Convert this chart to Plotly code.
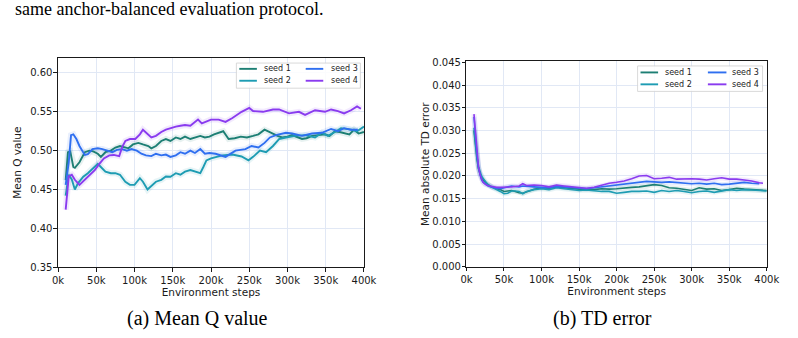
import plotly.graph_objects as go

# ---------------- data (steps in thousands) ----------------
q_steps_s1 = [10, 13, 16, 20, 22, 28, 35, 41, 46, 52, 56, 62, 69, 75, 81, 88, 92, 98, 105, 111, 118, 122, 128, 135, 141, 147, 154, 160, 166, 173, 179, 186, 192, 198, 204, 210, 216, 223, 231, 239, 247, 255, 262, 270, 276, 281, 287, 293, 300, 306, 312, 319, 325, 332, 340, 349, 355, 362, 368, 374, 381, 387, 393, 400]
q_vals_s1 = [0.462, 0.498, 0.499, 0.479, 0.478, 0.485, 0.498, 0.500, 0.499, 0.496, 0.492, 0.498, 0.500, 0.504, 0.506, 0.504, 0.503, 0.508, 0.510, 0.508, 0.506, 0.503, 0.506, 0.5125, 0.515, 0.5125, 0.517, 0.515, 0.518, 0.515, 0.517, 0.519, 0.517, 0.518, 0.521, 0.523, 0.525, 0.515, 0.516, 0.518, 0.517, 0.519, 0.521, 0.527, 0.524, 0.521, 0.519, 0.517, 0.518, 0.520, 0.518, 0.515, 0.516, 0.519, 0.520, 0.521, 0.519, 0.525, 0.524, 0.523, 0.521, 0.527, 0.522, 0.524]

q_steps_s2 = [10, 14, 18, 22, 26, 33, 39, 45, 52, 56, 62, 69, 75, 81, 88, 94, 100, 107, 111, 117, 122, 128, 135, 141, 147, 154, 160, 166, 173, 179, 186, 190, 194, 200, 206, 215, 228, 240, 249, 255, 264, 272, 281, 289, 298, 310, 323, 336, 345, 353, 362, 370, 383, 391, 400]
q_vals_s2 = [0.442, 0.469, 0.463, 0.450, 0.458, 0.4665, 0.471, 0.477, 0.483, 0.479, 0.473, 0.471, 0.471, 0.469, 0.460, 0.456, 0.456, 0.4645, 0.460, 0.450, 0.454, 0.460, 0.4625, 0.4667, 0.4665, 0.471, 0.469, 0.473, 0.475, 0.473, 0.471, 0.479, 0.4875, 0.490, 0.492, 0.494, 0.495, 0.4925, 0.4875, 0.492, 0.500, 0.498, 0.506, 0.515, 0.517, 0.519, 0.520, 0.517, 0.523, 0.519, 0.524, 0.529, 0.527, 0.525, 0.531]

q_steps_s3 = [10, 14, 17, 20, 24, 28, 35, 39, 45, 52, 58, 64, 71, 77, 84, 90, 96, 103, 109, 115, 122, 128, 135, 141, 147, 154, 160, 166, 173, 179, 186, 192, 198, 206, 219, 232, 245, 253, 262, 270, 277, 285, 298, 306, 319, 332, 345, 357, 366, 374, 383, 392]
q_vals_s3 = [0.456, 0.485, 0.520, 0.521, 0.515, 0.506, 0.4945, 0.4955, 0.502, 0.503, 0.502, 0.500, 0.498, 0.501, 0.502, 0.500, 0.502, 0.500, 0.496, 0.494, 0.493, 0.496, 0.494, 0.495, 0.492, 0.494, 0.498, 0.496, 0.500, 0.497, 0.502, 0.496, 0.497, 0.496, 0.492, 0.500, 0.502, 0.506, 0.504, 0.510, 0.517, 0.520, 0.523, 0.522, 0.519, 0.522, 0.523, 0.528, 0.525, 0.529, 0.527, 0.527]

q_steps_s4 = [10, 14, 18, 22, 28, 35, 41, 48, 54, 60, 67, 73, 80, 84, 88, 94, 101, 107, 111, 116, 122, 128, 135, 141, 147, 154, 160, 166, 173, 179, 183, 188, 194, 200, 210, 219, 228, 240, 250, 255, 268, 281, 289, 302, 315, 323, 336, 349, 357, 366, 374, 383, 391, 396]
q_vals_s4 = [0.424, 0.467, 0.469, 0.4625, 0.456, 0.4625, 0.469, 0.475, 0.483, 0.490, 0.494, 0.4945, 0.493, 0.505, 0.5125, 0.515, 0.515, 0.521, 0.527, 0.523, 0.517, 0.519, 0.524, 0.527, 0.529, 0.531, 0.532, 0.533, 0.532, 0.5375, 0.540, 0.535, 0.5375, 0.540, 0.540, 0.537, 0.542, 0.550, 0.555, 0.551, 0.550, 0.553, 0.553, 0.548, 0.550, 0.546, 0.552, 0.550, 0.553, 0.551, 0.548, 0.552, 0.557, 0.554]

td_steps = [10, 12, 14, 16, 18, 20, 22, 25, 28, 31, 35, 40, 45, 50, 55, 60, 65, 70, 75, 80, 90, 100, 110, 120, 130, 140, 150, 160, 170, 180, 190, 200, 210, 220, 230, 240, 250, 260, 270, 280, 290, 300, 310, 320, 330, 340, 350, 360, 370, 380, 390, 400]
td_steps_s3 = td_steps[:-1]
td_steps_s4 = td_steps[:-1] + [395]

td_vals_s1 = [0.0300, 0.0265, 0.0237, 0.0216, 0.0205, 0.0196, 0.0192, 0.0186, 0.0182, 0.0178, 0.0175, 0.0172, 0.0170, 0.0166, 0.0167, 0.0168, 0.0166, 0.0163, 0.0162, 0.0165, 0.0171, 0.0174, 0.0173, 0.0176, 0.0174, 0.0172, 0.0171, 0.0171, 0.0170, 0.0172, 0.0171, 0.0172, 0.0174, 0.0175, 0.0176, 0.0178, 0.0181, 0.0179, 0.0174, 0.0173, 0.0170, 0.0168, 0.0174, 0.0171, 0.0172, 0.0168, 0.0170, 0.0173, 0.0171, 0.0170, 0.0168, 0.0168]
td_vals_s2 = [0.0306, 0.0270, 0.0242, 0.0221, 0.0208, 0.0200, 0.0195, 0.0187, 0.0182, 0.0178, 0.0174, 0.0170, 0.0166, 0.0161, 0.0162, 0.0167, 0.0167, 0.0166, 0.0161, 0.0166, 0.0170, 0.0172, 0.0170, 0.0174, 0.0172, 0.0170, 0.0168, 0.0169, 0.0167, 0.0166, 0.0166, 0.0162, 0.0164, 0.0166, 0.0166, 0.0167, 0.0164, 0.0168, 0.0166, 0.0168, 0.0166, 0.0163, 0.0166, 0.0167, 0.0164, 0.0167, 0.0170, 0.0168, 0.0170, 0.0169, 0.0168, 0.0167]
td_vals_s3 = [0.0330, 0.0285, 0.0245, 0.0218, 0.0202, 0.0192, 0.0187, 0.0182, 0.0179, 0.0177, 0.0175, 0.0173, 0.0172, 0.0174, 0.0176, 0.0178, 0.0177, 0.0176, 0.0178, 0.0177, 0.0176, 0.0175, 0.0174, 0.0177, 0.0176, 0.0175, 0.0174, 0.0172, 0.0174, 0.0176, 0.0178, 0.0179, 0.0181, 0.0184, 0.0186, 0.0188, 0.0187, 0.0186, 0.0187, 0.0186, 0.0184, 0.0183, 0.0184, 0.0182, 0.0184, 0.0181, 0.0182, 0.0184, 0.0186, 0.0184, 0.0183]
td_vals_s4 = [0.0336, 0.0290, 0.0249, 0.0221, 0.0203, 0.0192, 0.0186, 0.0182, 0.0179, 0.0178, 0.0176, 0.0175, 0.0175, 0.0175, 0.0176, 0.0176, 0.0177, 0.0178, 0.0183, 0.0179, 0.0180, 0.0179, 0.0176, 0.0180, 0.0178, 0.0176, 0.0175, 0.0173, 0.0175, 0.0179, 0.0184, 0.0186, 0.0189, 0.0194, 0.0200, 0.0201, 0.0194, 0.0195, 0.0197, 0.0193, 0.0194, 0.0194, 0.0193, 0.0191, 0.0194, 0.0196, 0.0193, 0.0193, 0.0191, 0.0189, 0.0185, 0.0184]

seed_names = ["seed 1", "seed 2", "seed 3", "seed 4"]
x_tick_vals = [0, 50, 100, 150, 200, 250, 300, 350, 400]
x_tick_text = ["0k", "50k", "100k", "150k", "200k", "250k", "300k", "350k", "400k"]
q_tick_vals = [0.35, 0.40, 0.45, 0.50, 0.55, 0.60]
q_tick_text = ["0.35", "0.40", "0.45", "0.50", "0.55", "0.60"]
td_tick_vals = [0.000, 0.005, 0.010, 0.015, 0.020, 0.025, 0.030, 0.035, 0.040, 0.045]
td_tick_text = ["0.000", "0.005", "0.010", "0.015", "0.020", "0.025", "0.030", "0.035", "0.040", "0.045"]
header_text = "same anchor-balanced evaluation protocol."
caption_a = "(a) Mean Q value"
caption_b = "(b) TD error"

# ---------------- styling ----------------
W, H = 798, 338
colors = ["#1d7f74", "#1e9cb3", "#2f6ff0", "#8a3bef"]
SANS = "DejaVu Sans"
SERIF = "Liberation Serif"
INK = "#1a1a1a"

def px(x):
    return x / W

def py(y):
    return 1 - y / H

fig = go.Figure()

q_series = [(q_steps_s1, q_vals_s1), (q_steps_s2, q_vals_s2), (q_steps_s3, q_vals_s3), (q_steps_s4, q_vals_s4)]
td_series = [(td_steps, td_vals_s1), (td_steps, td_vals_s2), (td_steps_s3, td_vals_s3), (td_steps_s4, td_vals_s4)]

for (xs, ys), c in zip(q_series, colors):
    fig.add_trace(go.Scatter(x=xs, y=ys, mode="lines", xaxis="x", yaxis="y",
                             line=dict(color=c, width=6), opacity=0.10,
                             showlegend=False, hoverinfo="skip"))
for (xs, ys), c, n in zip(q_series, colors, seed_names):
    fig.add_trace(go.Scatter(x=xs, y=ys, mode="lines", xaxis="x", yaxis="y",
                             line=dict(color=c, width=1.9), name=n, showlegend=False))
for (xs, ys), c in zip(td_series, colors):
    fig.add_trace(go.Scatter(x=xs, y=ys, mode="lines", xaxis="x2", yaxis="y2",
                             line=dict(color=c, width=5), opacity=0.10,
                             showlegend=False, hoverinfo="skip"))
for (xs, ys), c, n in zip(td_series, colors, seed_names):
    fig.add_trace(go.Scatter(x=xs, y=ys, mode="lines", xaxis="x2", yaxis="y2",
                             line=dict(color=c, width=1.6), name=n, showlegend=False))

axis_common = dict(
    showline=True, linecolor=INK, linewidth=1.1, mirror=True,
    ticks="outside", ticklen=3.5, tickwidth=1, tickcolor=INK,
    showgrid=True, gridcolor="#e1e8f5", gridwidth=1, zeroline=False,
    tickfont=dict(family=SANS, size=10, color=INK),
)
title_font = dict(family=SANS, size=10.5, color=INK)

fig.update_layout(
    width=W, height=H,
    margin=dict(l=0, r=0, t=0, b=0),
    paper_bgcolor="white", plot_bgcolor="white",
    showlegend=False,
    xaxis=dict(domain=[px(53.3), px(366.7)], anchor="y", range=[0, 400],
               tickmode="array", tickvals=x_tick_vals, ticktext=x_tick_text,
               title=dict(text="Environment steps", font=title_font, standoff=3),
               **axis_common),
    yaxis=dict(domain=[py(271), py(55)], anchor="x", range=[0.35, 0.619],
               tickmode="array", tickvals=q_tick_vals, ticktext=q_tick_text,
               ticklabelstandoff=-1,
               title=dict(text="Mean Q value", font=title_font, standoff=6),
               **axis_common),
    xaxis2=dict(domain=[px(471.7), px(779.3)], anchor="y2", range=[0, 400],
                tickmode="array", tickvals=x_tick_vals, ticktext=x_tick_text,
                title=dict(text="Environment steps", font=title_font, standoff=3),
                **axis_common),
    yaxis2=dict(domain=[py(270.7), py(58.3)], anchor="x2", range=[0, 0.0452],
                tickmode="array", tickvals=td_tick_vals, ticktext=td_tick_text,
                ticklabelstandoff=-1,
                title=dict(text="Mean absolute TD error", font=title_font, standoff=0),
                **axis_common),
)

# ---------------- manual two-column legends ----------------
def add_legend(box, rows, cols):
    x0, y0, x1, y1 = box
    fig.add_shape(type="rect", xref="paper", yref="paper",
                  x0=px(x0), x1=px(x1), y0=py(y1), y1=py(y0),
                  line=dict(color="#cfcfcf", width=0.8), fillcolor="rgba(255,255,255,0.85)", layer="above")
    k = 0
    for ci, (lx0, lx1, tx) in enumerate(cols):
        for ri, ry in enumerate(rows):
            fig.add_shape(type="line", xref="paper", yref="paper",
                          x0=px(lx0), x1=px(lx1), y0=py(ry), y1=py(ry),
                          line=dict(color=colors[k], width=1.9), layer="above")
            fig.add_annotation(x=px(tx), y=py(ry), xref="paper", yref="paper",
                               text=seed_names[k], showarrow=False, xanchor="left", yanchor="middle",
                               font=dict(family=SANS, size=8, color=INK))
            k += 1

add_legend((236, 60, 363, 86), [66.0, 78.3], [(239, 257, 262), (307, 325, 331)])
add_legend((647, 63, 775, 89.3), [69.7, 82.0], [(650, 668, 673), (719, 738, 742)])

# ---------------- page text ----------------
fig.add_annotation(x=px(7), y=py(4.5), xref="paper", yref="paper", text=header_text,
                   showarrow=False, xanchor="left", yanchor="middle",
                   font=dict(family=SERIF, size=18, color="black"))
fig.add_annotation(x=px(196), y=py(324.5), xref="paper", yref="paper", text=caption_a,
                   showarrow=False, xanchor="center", yanchor="middle",
                   font=dict(family=SERIF, size=20, color="black"))
fig.add_annotation(x=px(611), y=py(324.5), xref="paper", yref="paper", text=caption_b,
                   showarrow=False, xanchor="center", yanchor="middle",
                   font=dict(family=SERIF, size=20, color="black"))

fig.write_html("out.html")
